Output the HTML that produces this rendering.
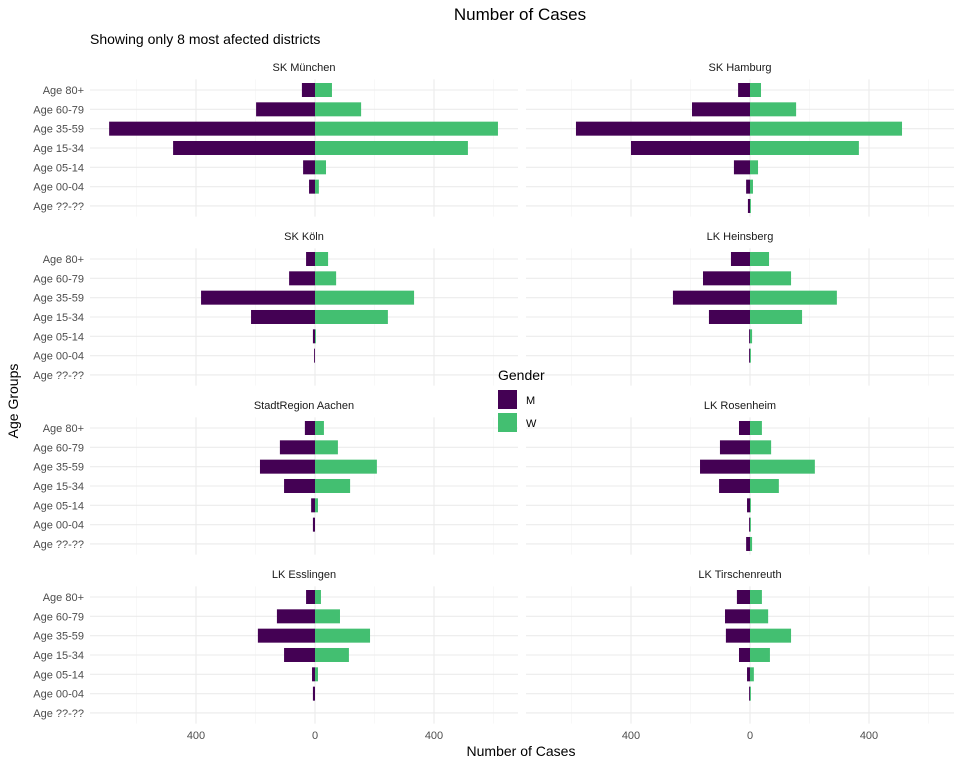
<!DOCTYPE html>
<html><head><meta charset="utf-8"><style>
body{margin:0;background:#fff;font-family:"Liberation Sans",sans-serif}
svg text{font-family:"Liberation Sans",sans-serif}
</style></head><body>
<svg id="c" width="960" height="768" xmlns="http://www.w3.org/2000/svg"></svg>
<script>
const ageGroups=["Age 80+","Age 60-79","Age 35-59","Age 15-34","Age 05-14","Age 00-04","Age ??-??"];
const districts=["SK München","SK Hamburg","SK Köln","LK Heinsberg","StadtRegion Aachen","LK Rosenheim","LK Esslingen","LK Tirschenreuth"];
const maleValues=[
[44,198,692,477,40,20,0],
[40,195,585,400,54,13,7],
[30,87,383,215,7,3,0],
[64,158,259,138,3,3,0],
[34,118,185,104,13,7,0],
[37,101,168,104,10,3,13],
[30,128,192,104,10,7,0],
[44,84,81,37,10,3,0]];
const femaleValues=[
[57,155,615,514,37,13,0],
[37,155,511,366,27,10,3],
[44,71,333,245,3,0,0],
[64,138,292,175,7,3,0],
[30,77,208,118,10,0,0],
[40,71,218,97,3,3,7],
[20,84,185,114,10,0,0],
[40,61,138,67,13,3,0]];
const xTicks=[-400,0,400];
const xTickLabels=["400","0","400"];
const minorTicks=[-600,-200,200,600];

const NS="http://www.w3.org/2000/svg";
const svg=document.getElementById('c');
function el(t,a,p){const e=document.createElementNS(NS,t);for(const k in a)e.setAttribute(k,a[k]);(p||svg).appendChild(e);return e;}
function txt(s,a,p){const e=el('text',a,p);e.textContent=s;return e;}
const scale=119/400;
const panelL=[90,526],panelW=428,zero=[315,750];
const rowTop=[90,259,428,597],step=19.33,barH=14;

districts.forEach((d,i)=>{
  const col=i%2,row=Math.floor(i/2);
  const g=el('g',{});
  
  
  const x0=zero[col];
  const xs=v=>x0+v*scale;
  const top=rowTop[row]-step/2-1,bot=rowTop[row]+6*step+step/2+1;
  minorTicks.forEach(t=>{const x=xs(t);if(x>panelL[col]&&x<panelL[col]+panelW)el('line',{x1:x,x2:x,y1:top,y2:bot,stroke:'#f3f3f3','stroke-width':0.6},g);});
  xTicks.forEach(t=>{el('line',{x1:xs(t),x2:xs(t),y1:top,y2:bot,stroke:'#ebebeb','stroke-width':1.1},g);});
  ageGroups.forEach((a,j)=>{const y=rowTop[row]+j*step;el('line',{x1:panelL[col],x2:panelL[col]+panelW,y1:y,y2:y,stroke:'#ebebeb','stroke-width':1.1},g);});
  const st=txt(d,{x:panelL[col]+panelW/2,y:rowTop[row]-19,'font-size':11,'text-anchor':'middle',fill:'#1a1a1a'},g);
  
  ageGroups.forEach((a,j)=>{
    const y=rowTop[row]+j*step;
    const m=maleValues[i][j],f=femaleValues[i][j];
    if(m>0){const r=el('rect',{x:xs(-m),y:y-barH/2,width:m*scale,height:barH,fill:'#440154'},g);
      }
    if(f>0){const r=el('rect',{x:x0,y:y-barH/2,width:f*scale,height:barH,fill:'#43bf71'},g);
      }
    if(col==0){const t=txt(a,{x:84,y:y+4,'font-size':11,'text-anchor':'end',fill:'#4d4d4d'},g);
      }
  });
  if(row==3){xTicks.forEach((t,k)=>{const tl=txt(xTickLabels[k],{x:xs(t),y:739,'font-size':11,'text-anchor':'middle',fill:'#4d4d4d'},g);
    });}
});
let t;
t=txt("Number of Cases",{x:520,y:20,'font-size':17,'text-anchor':'middle',fill:'#000'});
t=txt("Showing only 8 most afected districts",{x:90,y:44,'font-size':14,fill:'#000'});
t=txt("Number of Cases",{x:521,y:756,'font-size':14,'text-anchor':'middle',fill:'#000'});
t=txt("Age Groups",{x:0,y:0,'font-size':14,'text-anchor':'middle',fill:'#000',transform:'translate(18,401) rotate(-90)'});
const lg=el('g',{});
txt("Gender",{x:498,y:380,'font-size':14,fill:'#000'},lg);
el('rect',{x:498,y:390,width:19,height:19,fill:'#440154'},lg);
el('rect',{x:498,y:413,width:19,height:19,fill:'#43bf71'},lg);
txt("M",{x:526,y:404,'font-size':11,fill:'#000'},lg);
txt("W",{x:526,y:427,'font-size':11,fill:'#000'},lg);
</script>
</body></html>
